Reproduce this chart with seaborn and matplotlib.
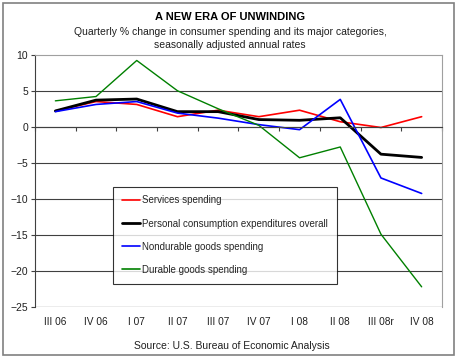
import matplotlib
matplotlib.use("Agg")
import matplotlib.pyplot as plt
import seaborn as sns
import pandas as pd
from matplotlib.patches import Rectangle

quarters = ["III 06", "IV 06", "I 07", "II 07", "III 07", "IV 07", "I 08", "II 08", "III 08r", "IV 08"]
services = [2.2, 3.5, 3.1, 1.4, 2.3, 1.4, 2.3, 0.7, -0.1, 1.4]
pce = [2.2, 3.7, 3.85, 2.1, 2.1, 1.0, 0.9, 1.25, -3.8, -4.25]
nondurable = [2.1, 3.1, 3.5, 1.9, 1.2, 0.3, -0.4, 3.8, -7.1, -9.25]
durable = [3.6, 4.2, 9.2, 5.0, 2.5, 0.2, -4.3, -2.8, -14.9, -22.2]
names = ["Services spending", "Personal consumption expenditures overall",
         "Nondurable goods spending", "Durable goods spending"]
colors = ["#ff0000", "#000000", "#0000ff", "#008000"]
widths = [1.2, 2.0, 1.2, 1.0]

sns.set_theme(style="white")
plt.rcParams['font.family'] = ['Liberation Sans', 'DejaVu Sans']

df = pd.DataFrame({
    "quarter": quarters * 4,
    "value": services + pce + nondurable + durable,
    "series": [n for n in names for _ in quarters],
})

fig = plt.figure(figsize=(4.6, 3.58), dpi=100)
fig.patches.append(Rectangle((3 / 460, 1 - 355 / 358), 451 / 460, 352 / 358,
                             transform=fig.transFigure, fill=False,
                             edgecolor="#808080", linewidth=1.2))
ax = fig.add_axes([35 / 460, 1 - 307 / 358, 407 / 460, 252.3 / 358])

sns.lineplot(data=df, x="quarter", y="value", hue="series", size="series",
             hue_order=names, size_order=names,
             palette=dict(zip(names, colors)), sizes=dict(zip(names, widths)),
             sort=False, ax=ax, legend=True)

ax.set_xlim(-0.5, 9.5)
ax.set_ylim(-25, 10)
ax.set_yticks(range(-25, 11, 5))
ax.set_xlabel("")
ax.set_ylabel("")
for yv in range(-20, 10, 5):
    ax.axhline(yv, color="#404040", linewidth=0.8, zorder=0)

for s in ["top", "right"]:
    ax.spines[s].set_color("#a0a0a0")
    ax.spines[s].set_linewidth(0.8)
ax.spines["left"].set_color("#404040")
ax.spines["left"].set_linewidth(0.8)
ax.spines["bottom"].set_position(("data", 0))
ax.spines["bottom"].set_color("#404040")
ax.spines["bottom"].set_linewidth(0.8)
ax.axhline(-25, color="#a0a0a0", linewidth=1.0, zorder=0)

ax.set_xticks(range(10))
ax.set_xticklabels(quarters)
ax.set_xticks([k - 0.5 for k in range(11)], minor=True)
ax.tick_params(axis="x", which="major", length=0, pad=137, labelsize=7.3, colors="#202020")
ax.tick_params(axis="x", which="minor", length=3, width=0.8, color="#404040", direction="out", bottom=True)
ax.tick_params(axis="y", which="major", length=3, width=0.8, color="#404040", left=True,
               labelsize=7.5, labelcolor="#202020", pad=2)

leg = ax.legend(loc="upper left", bbox_to_anchor=(0.1916, 0.477),
                frameon=True, fancybox=False, edgecolor="#000000",
                fontsize=7.0, handlelength=1.9, handletextpad=0.2, labelspacing=1.35,
                borderpad=0.9, borderaxespad=0)
leg.get_frame().set_linewidth(0.8)
for h in leg.get_lines():
    h.set_linewidth(1.2 if h.get_color() != "#000000" else 2.0)

fig.text(0.5, 1 - 17 / 358, "A NEW ERA OF UNWINDING", ha="center", va="center",
         fontsize=8, fontweight="bold", color="#000000")
fig.text(0.5, 1 - 32 / 358, "Quarterly % change in consumer spending and its major categories,",
         ha="center", va="center", fontsize=7.5, color="#202020")
fig.text(0.5, 1 - 45 / 358, "seasonally adjusted annual rates",
         ha="center", va="center", fontsize=7.5, color="#202020")
fig.text(232 / 460, 1 - 346 / 358, "Source: U.S. Bureau of Economic Analysis",
         ha="center", va="center", fontsize=7.5, color="#202020")

fig.savefig("out.png", dpi=100)
